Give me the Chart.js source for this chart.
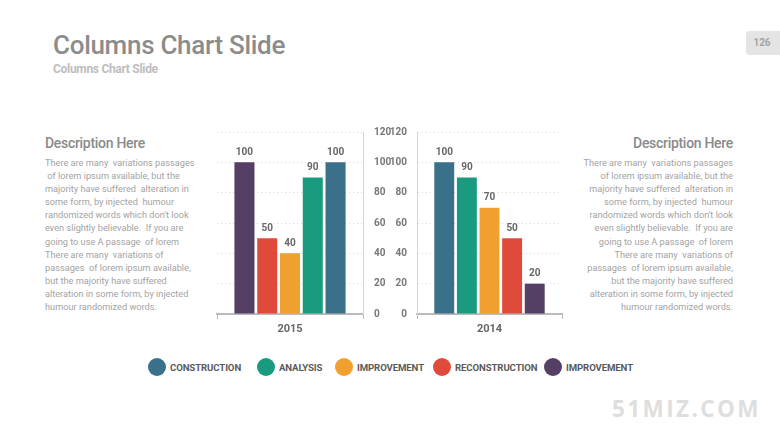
<!DOCTYPE html>
<html>
<head>
<meta charset="utf-8">
<script src="https://cdn.jsdelivr.net/npm/chart.js@4/dist/chart.umd.min.js"></script>
<style>
  body { margin:0; width:780px; height:439px; background:#fff; position:relative; overflow:hidden; font-family:Roboto, sans-serif; }
  .abs { position:absolute; }
  #title { left:53px; top:32px; font-size:26px; line-height:1; font-weight:500; color:#8c8c8c; letter-spacing:-0.3px; }
  #subtitle { left:53px; top:63px; font-size:12px; line-height:1; font-weight:700; color:#bdbdbd; letter-spacing:-0.3px; }
  #badge { left:746px; top:31px; width:44px; height:24px; background:#e4e4e4; border-radius:4px; }
  #badge span { position:absolute; left:0; width:32px; top:7px; text-align:center; font-size:10px; line-height:1; font-weight:700; color:#a2a2a2; }
  .dtitle { top:136px; font-size:14px; line-height:1; font-weight:500; color:#8a8a8a; letter-spacing:-0.3px; }
  .dbody { top:156px; font-size:9.2px; line-height:13.1px; color:#a3a3a3; white-space:pre; }
  #dl-title, #dl-body { left:45px; }
  #dr-title, #dr-body { right:47px; text-align:right; }
  .item { position:absolute; top:358px; display:flex; align-items:center; }
  .dot { width:18px; height:18px; border-radius:50%; margin-right:4px; }
  .lab { font-size:9.6px; font-weight:700; color:#5a5a5a; letter-spacing:-0.1px; }
  #watermark { left:612px; top:395px; font-family:"Open Sans", sans-serif; font-size:22.5px; line-height:1.2; font-weight:700; color:#dedede; letter-spacing:2.4px; }
  canvas { position:absolute; }
</style>
</head>
<body>
<div id="title" class="abs">Columns Chart Slide</div>
<div id="subtitle" class="abs">Columns Chart Slide</div>
<div id="badge" class="abs"><span>126</span></div>

<div id="dl-title" class="abs dtitle">Description Here</div>
<div id="dl-body" class="abs dbody"></div>
<div id="dr-title" class="abs dtitle">Description Here</div>
<div id="dr-body" class="abs dbody"></div>

<canvas id="chart2015" width="190" height="222" style="left:207px; top:122px;"></canvas>
<canvas id="chart2014" width="189" height="222" style="left:383px; top:122px;"></canvas>

<div id="legend"></div>
<div id="watermark" class="abs">51MIZ.COM</div>

<script>
const years = ['2015', '2014'];
const seriesNames = ['CONSTRUCTION', 'ANALYSIS', 'IMPROVEMENT', 'RECONSTRUCTION', 'IMPROVEMENT'];
const values2015 = [100, 90, 40, 50, 100];
const values2014 = [100, 90, 70, 50, 20];
const order2015 = [4, 3, 2, 1, 0];
const order2014 = [0, 1, 2, 3, 4];
const yMin = 0, yMax = 120, yStep = 20;
const colors = ['#3a7089', '#1a9b80', '#f0a02e', '#e04a3b', '#553f64'];
const legendLeft = [148, 257, 335, 433, 544];

const descLeft = [
  'There are many  variations passages',
  ' of lorem ipsum available, but the',
  'majority have suffered  alteration in',
  'some form, by injected  humour',
  "randomized words which don't look",
  'even slightly believable.  If you are',
  'going to use A passage  of lorem',
  'There are many  variations of',
  'passages  of lorem ipsum available,',
  'but the majority have suffered',
  'alteration in some form, by injected',
  'humour randomized words.'
];
const descRight = [
  'There are many  variations passages',
  'of lorem ipsum available, but the',
  'majority have suffered  alteration in',
  'some form, by injected  humour',
  "randomized words which don't look",
  'even slightly believable.  If you are',
  'going to use A passage  of lorem',
  'There are many  variations of',
  'passages  of lorem ipsum available,',
  'but the majority have suffered',
  'alteration in some form, by injected',
  'humour randomized words.'
];
document.getElementById('dl-body').textContent = descLeft.join('\n');
document.getElementById('dr-body').textContent = descRight.join('\n');

// legend
const legend = document.getElementById('legend');
seriesNames.forEach((name, i) => {
  const item = document.createElement('div');
  item.className = 'item';
  item.style.left = legendLeft[i] + 'px';
  item.innerHTML = '<div class="dot" style="background:' + colors[i] + '"></div><span class="lab">' + name + '</span>';
  legend.appendChild(item);
});

// value labels above bars
const barLabels = {
  id: 'barLabels',
  afterDatasetsDraw(chart) {
    const ctx = chart.ctx;
    ctx.save();
    ctx.font = 'bold 10px Roboto';
    ctx.fillStyle = '#666';
    ctx.textAlign = 'center';
    ctx.textBaseline = 'bottom';
    chart.data.datasets.forEach((ds, di) => {
      chart.getDatasetMeta(di).data.forEach((el, i) => {
        ctx.fillText(ds.data[i], el.x, el.y - 5);
      });
    });
    ctx.restore();
  }
};

function makeChart(id, year, values, order, side) {
  const ctx = document.getElementById(id).getContext('2d');
  return new Chart(ctx, {
    type: 'bar',
    data: {
      labels: [year],
      datasets: order.map(i => ({
        label: seriesNames[i],
        data: [values[i]],
        backgroundColor: colors[i],
        borderWidth: 0
      }))
    },
    options: {
      responsive: false,
      animation: false,
      layout: { padding: side === 'right' ? { left: 10, top: 10, right: 0, bottom: 0 } : { left: 0, top: 10, right: 10, bottom: 0 } },
      plugins: { legend: { display: false }, tooltip: { enabled: false } },
      datasets: { bar: { categoryPercentage: 0.78, barPercentage: 0.88 } },
      scales: {
        x: {
          grid: { drawOnChartArea: false, drawTicks: true, tickLength: 5, color: '#bbb' },
          border: { color: '#bbb', width: 2 },
          ticks: { color: '#666', font: { family: 'Roboto', weight: 'bold', size: 11 }, padding: 4 },
          afterFit: s => { s.height = 30; }
        },
        y: {
          position: side,
          min: yMin, max: yMax,
          ticks: { stepSize: yStep, color: '#777', font: { family: 'Roboto', weight: 'bold', size: 10 }, padding: side === 'right' ? 11 : 10 },
          grid: { color: '#d6d6d6', drawTicks: false },
          border: { color: '#d8d8d8', width: 1, dash: [1, 3] },
          afterFit: s => { s.width = 34; s.paddingTop = 0; s.paddingBottom = 0; }
        }
      }
    },
    plugins: [barLabels]
  });
}

makeChart('chart2015', years[0], values2015, order2015, 'right');
makeChart('chart2014', years[1], values2014, order2014, 'left');
</script>
</body>
</html>
